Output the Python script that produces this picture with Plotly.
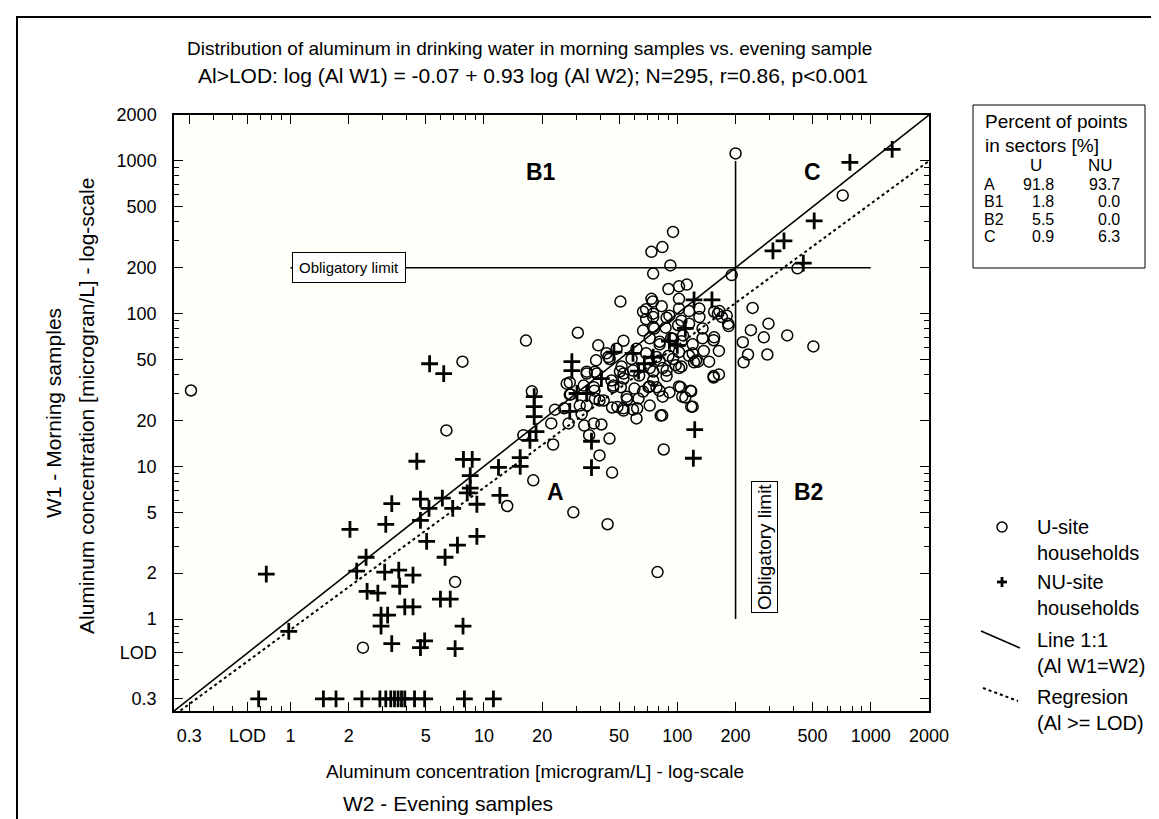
import math
import plotly.graph_objects as go

# ---------------- data ----------------
# U-site households (open circles): (W2 evening, W1 morning) in microgram/L
u_sparse = [(0.306, 31.4), (2.37, 0.65), (7.1, 1.75), (6.4, 17.2), (7.75, 48.5), (13.2, 5.5),
            (16.5, 66.6), (30.6, 75), (18.0, 8.1), (16.0, 16), (17.7, 31), (22.3, 19.1),
            (22.8, 13.9), (23.3, 23.5), (27.4, 19.1), (27.8, 35.4), (28.1, 29.6), (31.3, 25),
            (33, 18.5), (35, 16), (39.6, 11.8), (46, 9.1), (44.6, 15.2), (40.5, 18.8),
            (37, 19.1), (32, 22), (34, 41.7), (37.5, 41.7), (37, 33), (37.5, 27.8), (41.6, 27),
            (46.6, 33), (39, 62), (48.5, 59), (44, 52), (29, 5.0), (43.6, 4.18), (79, 2.03),
            (82, 21.5), (61.5, 20.6), (52.6, 24), (62, 24), (49, 24.5), (85, 12.9), (154, 38.2),
            (118, 24.6), (106, 28.6), (118, 31), (104, 33), (91, 30.5), (84, 28.6), (78, 33),
            (71, 33), (55, 27.5), (51, 33), (146, 48.5), (164, 57), (154, 67), (183, 86), (180, 97)]
u_b2_c_b1 = [(245, 109), (296, 86), (240, 78), (218, 65), (280, 70), (370, 72), (292, 54),
             (232, 54), (220, 48), (505, 61), (418, 198), (716, 595), (200, 1120),
             (95, 343), (73.5, 254), (83.7, 273), (92, 207), (75, 183), (191, 179)]
u_upper = [(50.8, 120), (74.6, 120), (69, 107), (75, 100), (69, 92), (102, 151), (112, 155),
           (90, 145), (102, 125), (130, 108), (155, 103), (165, 104), (170, 95), (184, 83),
           (155, 70), (128, 48.5), (164, 40), (73.5, 125), (83, 112), (75, 95), (88, 94),
           (102, 108), (115, 104), (76, 80), (87, 81), (101, 84), (115, 86), (130, 95)]
u_dense = [(72, 69), (81, 63), (93, 69), (105, 66), (120, 63), (135, 69), (78, 52), (90, 53),
           (102, 56), (120, 55), (137, 57), (72, 44), (84, 44), (98, 46), (122, 48), (154, 39),
           (88, 39), (34, 40.5), (38.3, 40.5), (52.7, 40.5), (59, 42.4), (75, 41.8), (88, 42.4),
           (102, 44), (26.8, 34.8), (27.8, 29.5), (32.8, 33.8), (37.3, 31.3), (46.7, 33.8),
           (52.7, 37.6), (60, 32.3), (66.5, 30.9), (80.8, 31.3), (102, 33.4), (117, 31.3),
           (54.7, 28.6), (63, 27.8), (72, 25), (52.7, 23.2), (59, 23.5), (46, 24.3), (110, 28.2),
           (120, 24.6), (83.5, 21.6), (34, 25), (39.6, 27), (26, 24)]
u_core = [(66.5, 103), (91, 97), (105, 90), (162, 100), (66.5, 77.5), (75, 82), (81, 65.5),
          (95, 68.5), (107, 72), (135, 80), (115, 53), (125, 49.3), (95, 50.5), (81, 49.3),
          (69, 55), (61.5, 59), (52.7, 66.5), (44.6, 50.5), (50.5, 41.8), (63.5, 39.3),
          (75, 36.5), (105, 45), (72, 33.5), (43, 55), (38, 49.5), (51.5, 45), (58, 50.5),
          (45.7, 36.5)]

# NU-site households (plus signs)
nu_below_lod_x = [0.685, 1.48, 1.72, 2.34, 2.90, 3.11, 3.30, 3.45, 3.60, 3.75, 3.90, 4.38,
                  4.94, 7.93, 11.2]
nu_below_lod_y = 0.3
nu_low = [(0.98, 0.83), (0.75, 1.97), (2.03, 3.87), (3.11, 4.17), (3.34, 5.7), (4.5, 10.8),
          (4.7, 6.1), (4.7, 4.43), (5.06, 3.23), (5.2, 5.3), (6.1, 6.2), (6.9, 5.3), (8.2, 6.7),
          (9.2, 5.65), (7.3, 3.05), (9.2, 3.48), (6.3, 2.54), (2.46, 2.54), (2.2, 2.06),
          (3.07, 2.03), (3.63, 2.09), (4.3, 1.94), (3.67, 1.64), (2.49, 1.52), (2.83, 1.48),
          (3.9, 1.2), (4.3, 1.2), (5.96, 1.35), (6.7, 1.35), (2.94, 1.06), (3.18, 1.06),
          (2.94, 0.9), (7.8, 0.9), (3.34, 0.69), (4.94, 0.72), (4.7, 0.65), (7.1, 0.64)]
nu_mid = [(7.84, 11.1), (8.7, 11.1), (11.9, 9.84), (8.5, 8.7), (8.5, 7.2), (12.1, 6.45),
          (5.24, 47), (6.2, 40.5), (15.4, 11.4), (15.4, 10.0), (17.3, 14.8), (18.6, 16.9),
          (18.2, 28.6), (18.2, 24.6), (18.2, 21.2), (27.8, 22.9), (28.5, 48.5), (28.5, 42.3),
          (30.3, 30), (34, 30), (36, 14.6), (36, 9.8), (40.5, 37.6), (47, 56), (59, 55),
          (67.5, 47), (63, 42), (91, 66), (75, 52), (100, 62), (110, 80)]
nu_high = [(123, 17.4), (121, 11.3), (122, 123), (151, 123), (312, 258), (356, 300),
           (448, 214), (510, 405), (780, 980), (1290, 1190)]

# lines
limit = 200
limit_span = [1, 1000]
identity_x = [0.25, 2000]
reg_intercept = -0.07
reg_slope = 0.93
reg_x = [0.27, 2000]

axis_range = [0.25, 2000]
tick_vals = [0.3, 0.6, 1, 2, 5, 10, 20, 50, 100, 200, 500, 1000, 2000]
tick_text = ["0.3", "LOD", "1", "2", "5", "10", "20", "50", "100", "200", "500", "1000", "2000"]

table_rows = ["A", "B1", "B2", "C"]
table_u = ["91.8", "1.8", "5.5", "0.9"]
table_nu = ["93.7", "0.0", "0.0", "6.3"]

# ---------------- build ----------------
u_all = u_sparse + u_b2_c_b1 + u_upper + u_dense + u_core
u_x = [p[0] for p in u_all]
u_y = [p[1] for p in u_all]
nu_all = [(x, nu_below_lod_y) for x in nu_below_lod_x] + nu_low + nu_mid + nu_high
nu_x = [p[0] for p in nu_all]
nu_y = [p[1] for p in nu_all]
reg_y = [10 ** (reg_intercept + reg_slope * math.log10(x)) for x in reg_x]

FONT = "Liberation Sans, Arial, sans-serif"
W, H = 1159, 819
L, R, T, B = 166, 921, 107, 703


def fx(px):
    return (px - L) / (R - L)


def fy(py):
    return (B - py) / (B - T)


fig = go.Figure()
line_style = dict(color="black", width=1.6)
fig.add_trace(go.Scatter(x=limit_span, y=[limit, limit], mode="lines", line=line_style,
                         showlegend=False, hoverinfo="skip"))
fig.add_trace(go.Scatter(x=[limit, limit], y=limit_span, mode="lines", line=line_style,
                         showlegend=False, hoverinfo="skip"))
fig.add_trace(go.Scatter(x=u_x, y=u_y, mode="markers", name="U-site households",
                         marker=dict(symbol="circle-open", size=11, color="black",
                                     line=dict(width=1.5, color="black")),
                         showlegend=False))
fig.add_trace(go.Scatter(x=nu_x, y=nu_y, mode="markers", name="NU-site households",
                         marker=dict(symbol="cross-thin-open", size=12, color="black",
                                     line=dict(width=2.8, color="black")),
                         showlegend=False))
fig.add_trace(go.Scatter(x=identity_x, y=identity_x, mode="lines", line=line_style,
                         showlegend=False, hoverinfo="skip"))
fig.add_trace(go.Scatter(x=reg_x, y=reg_y, mode="lines",
                         line=dict(color="black", width=2, dash="dot"),
                         showlegend=False, hoverinfo="skip"))

minor_vals = []
for d in range(-1, 4):
    for k in range(1, 10):
        v = k * 10 ** d
        if 0.25 <= v <= 2000 and v not in tick_vals:
            minor_vals.append(v)

axis_common = dict(type="log", range=[math.log10(axis_range[0]), math.log10(axis_range[1])],
                   tickmode="array", tickvals=tick_vals, ticktext=tick_text,
                   ticks="inside", ticklen=9, tickwidth=1, tickcolor="black",
                   showline=True, linecolor="black", linewidth=1.5, mirror="allticks",
                   showgrid=False, zeroline=False,
                   tickfont=dict(family=FONT, size=18, color="black"),
                   minor=dict(tickmode="array", tickvals=minor_vals, ticks="inside",
                              ticklen=5, tickcolor="black", tickwidth=1, showgrid=False))

fig.update_layout(
    width=W, height=H,
    margin=dict(l=L, r=W - R, t=T, b=H - B),
    paper_bgcolor="white", plot_bgcolor="#fffffa",
    font=dict(family=FONT, color="black"),
    xaxis=dict(**axis_common, ticklabelstandoff=8),
    yaxis=dict(**axis_common, ticklabelstandoff=12),
    showlegend=False,
)

ann = []


def text(px, py, s, size, xanchor="center", angle=0, bold=False, **kw):
    if bold:
        s = "<b>" + s + "</b>"
    ann.append(dict(x=fx(px), y=fy(py), xref="paper", yref="paper", text=s, showarrow=False,
                    xanchor=xanchor, yanchor="middle", textangle=angle,
                    font=dict(family=FONT, size=size, color="black"), **kw))


# titles
text(521, 40, "Distribution of aluminum in drinking water in morning samples vs. evening sample", 19)
text(525, 68, "Al&gt;LOD: log (Al W1) = -0.07 + 0.93 log (Al W2); N=295, r=0.86, p&lt;0.001", 21)
# axis titles
text(527, 763, "Aluminum concentration [microgram/L] - log-scale", 19)
text(440, 795, "W2 - Evening samples", 21)
text(78, 398, "Aluminum concentration [microgran/L] - log-scale", 21, angle=-90)
text(45, 405, "W1 - Morning samples", 21, angle=-90)

# sector labels (data coords, log10 for annotations)
for label, xv, yv in [("B1", 19.8, 848), ("C", 499, 848), ("A", 23.4, 6.76), ("B2", 475, 6.76)]:
    ann.append(dict(x=math.log10(xv), y=math.log10(yv), xref="x", yref="y",
                    text="<b>" + label + "</b>", showarrow=False,
                    font=dict(family=FONT, size=23, color="black")))

# obligatory limit boxes
ann.append(dict(x=math.log10(2.0), y=math.log10(limit), xref="x", yref="y",
                text="Obligatory limit", showarrow=False, bgcolor="white",
                bordercolor="black", borderwidth=1, borderpad=6,
                font=dict(family=FONT, size=15, color="black")))
ann.append(dict(x=fx(756), y=fy(539), xref="paper", yref="paper", xanchor="center",
                yanchor="middle", text="Obligatory limit", showarrow=False, textangle=-90,
                bgcolor="white", bordercolor="black", borderwidth=1, borderpad=2,
                font=dict(family=FONT, size=19, color="black")))

# percent table
text(975, 114, "Percent of points", 19, xanchor="left")
text(975, 137, "in sectors [%]", 19, xanchor="left")
text(1028, 158, "U", 17)
text(1092, 158, "NU", 17)
row_y = [176, 193.5, 211, 228.5]
for lab, uu, nn, yy in zip(table_rows, table_u, table_nu, row_y):
    text(975, yy, lab, 16, xanchor="left", borderpad=0)
    text(1047, yy, uu, 16, xanchor="right", borderpad=0)
    text(1113, yy, nn, 16, xanchor="right", borderpad=0)

# legend texts
for s, yy in [("U-site", 519), ("households", 545), ("NU-site", 574), ("households", 600),
              ("Line 1:1", 632), ("(Al W1=W2)", 658), ("Regresion", 689), ("(Al &gt;= LOD)", 715)]:
    text(1027, yy, s, 20, xanchor="left")

shapes = [
    dict(type="rect", xref="paper", yref="paper", x0=fx(9), x1=fx(1150), y0=fy(835), y1=fy(9),
         line=dict(color="black", width=2)),
    dict(type="rect", xref="paper", yref="paper", x0=fx(965), x1=fx(1137), y0=fy(260), y1=fy(97),
         line=dict(color="black", width=1)),
    dict(type="circle", xref="paper", yref="paper", x0=fx(989), x1=fx(999), y0=fy(524), y1=fy(514),
         line=dict(color="black", width=1.5)),
    dict(type="line", xref="paper", yref="paper", x0=fx(989), x1=fx(999), y0=fy(574), y1=fy(574),
         line=dict(color="black", width=2.8)),
    dict(type="line", xref="paper", yref="paper", x0=fx(994), x1=fx(994), y0=fy(569), y1=fy(579),
         line=dict(color="black", width=2.8)),
    dict(type="line", xref="paper", yref="paper", x0=fx(973), x1=fx(1012), y0=fy(623), y1=fy(640),
         line=dict(color="black", width=1.6)),
    dict(type="line", xref="paper", yref="paper", x0=fx(975), x1=fx(1010), y0=fy(680), y1=fy(693),
         line=dict(color="black", width=2, dash="dot")),
]

fig.update_layout(annotations=ann, shapes=shapes)
fig.write_html("out.html")
